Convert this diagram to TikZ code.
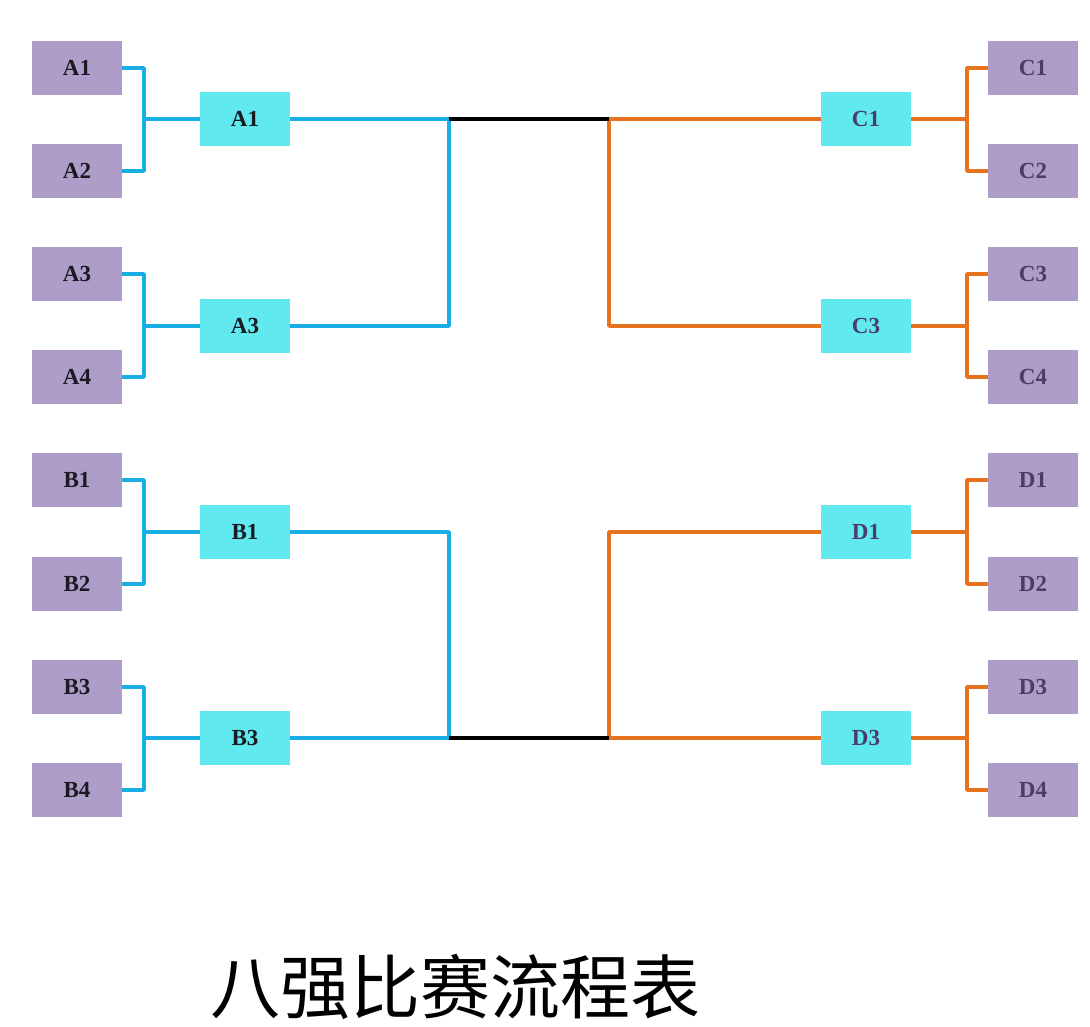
\documentclass[tikz,border=0pt]{standalone}
\usepackage{fontspec}
\setmainfont{Liberation Serif}
\newfontfamily\cjk{Noto Sans CJK SC}
\definecolor{boxpurple}{HTML}{AE9DC8}
\definecolor{boxcyan}{HTML}{60EAEF}
\definecolor{lineblue}{HTML}{1AAEE6}
\definecolor{lineorange}{HTML}{E8731E}
\definecolor{txtleft}{HTML}{1A1A22}
\definecolor{txtright}{HTML}{4A3D6A}
\tikzset{
  seedbox/.style={fill=boxpurple, minimum width=90pt, minimum height=54pt, inner sep=0pt, font=\fontsize{23}{23}\selectfont\bfseries},
  winbox/.style={fill=boxcyan, minimum width=90pt, minimum height=54pt, inner sep=0pt, font=\fontsize{23}{23}\selectfont\bfseries},
  lefttxt/.style={text=txtleft},
  righttxt/.style={text=txtright},
  bluewire/.style={draw=lineblue, line width=3.5pt, line join=round},
  orangewire/.style={draw=lineorange, line width=3.5pt, line join=round},
  blackwire/.style={draw=black, line width=3.5pt},
}
\begin{document}
\begin{tikzpicture}[x=1pt,y=-1pt]
\useasboundingbox (0,0) rectangle (1090,1027);
\fill[white] (0,0) rectangle (1090,1027);
% left seeds
\node[seedbox,lefttxt] (pA1) at (77,68) {A1};
\node[seedbox,lefttxt] (pA2) at (77,171) {A2};
\node[seedbox,lefttxt] (pA3) at (77,274) {A3};
\node[seedbox,lefttxt] (pA4) at (77,377) {A4};
\node[seedbox,lefttxt] (pB1) at (77,480) {B1};
\node[seedbox,lefttxt] (pB2) at (77,584) {B2};
\node[seedbox,lefttxt] (pB3) at (77,687) {B3};
\node[seedbox,lefttxt] (pB4) at (77,790) {B4};
% right seeds
\node[seedbox,righttxt] (pC1) at (1033,68) {C1};
\node[seedbox,righttxt] (pC2) at (1033,171) {C2};
\node[seedbox,righttxt] (pC3) at (1033,274) {C3};
\node[seedbox,righttxt] (pC4) at (1033,377) {C4};
\node[seedbox,righttxt] (pD1) at (1033,480) {D1};
\node[seedbox,righttxt] (pD2) at (1033,584) {D2};
\node[seedbox,righttxt] (pD3) at (1033,687) {D3};
\node[seedbox,righttxt] (pD4) at (1033,790) {D4};
% winners
\node[winbox,lefttxt] (cA1) at (245,119) {A1};
\node[winbox,lefttxt] (cA3) at (245,326) {A3};
\node[winbox,lefttxt] (cB1) at (245,532) {B1};
\node[winbox,lefttxt] (cB3) at (245,738) {B3};
\node[winbox,righttxt] (cC1) at (866,119) {C1};
\node[winbox,righttxt] (cC3) at (866,326) {C3};
\node[winbox,righttxt] (cD1) at (866,532) {D1};
\node[winbox,righttxt] (cD3) at (866,738) {D3};
% junctions
\coordinate (jA1) at (144,119);
\coordinate (jA3) at (144,326);
\coordinate (jB1) at (144,532);
\coordinate (jB3) at (144,738);
\coordinate (jC1) at (967,119);
\coordinate (jC3) at (967,326);
\coordinate (jD1) at (967,532);
\coordinate (jD3) at (967,738);
\coordinate (tl) at (449,119);
\coordinate (tr) at (609,119);
\coordinate (bl) at (449,738);
\coordinate (br) at (609,738);
% left brackets
\draw[bluewire] (pA1.east) -| (jA1);
\draw[bluewire] (pA2.east) -| (jA1);
\draw[bluewire] (jA1) -- (cA1.west);
\draw[bluewire] (pA3.east) -| (jA3);
\draw[bluewire] (pA4.east) -| (jA3);
\draw[bluewire] (jA3) -- (cA3.west);
\draw[bluewire] (pB1.east) -| (jB1);
\draw[bluewire] (pB2.east) -| (jB1);
\draw[bluewire] (jB1) -- (cB1.west);
\draw[bluewire] (pB3.east) -| (jB3);
\draw[bluewire] (pB4.east) -| (jB3);
\draw[bluewire] (jB3) -- (cB3.west);
% right brackets
\draw[orangewire] (pC1.west) -| (jC1);
\draw[orangewire] (pC2.west) -| (jC1);
\draw[orangewire] (jC1) -- (cC1.east);
\draw[orangewire] (pC3.west) -| (jC3);
\draw[orangewire] (pC4.west) -| (jC3);
\draw[orangewire] (jC3) -- (cC3.east);
\draw[orangewire] (pD1.west) -| (jD1);
\draw[orangewire] (pD2.west) -| (jD1);
\draw[orangewire] (jD1) -- (cD1.east);
\draw[orangewire] (pD3.west) -| (jD3);
\draw[orangewire] (pD4.west) -| (jD3);
\draw[orangewire] (jD3) -- (cD3.east);
% semifinal links
\draw[bluewire] (cA1.east) -- (tl);
\draw[bluewire] (cA3.east) -| (tl);
\draw[bluewire] (cB1.east) -| (bl);
\draw[bluewire] (cB3.east) -- (bl);
\draw[orangewire] (cC1.west) -- (tr);
\draw[orangewire] (cC3.west) -| (tr);
\draw[orangewire] (cD1.west) -| (br);
\draw[orangewire] (cD3.west) -- (br);
\draw[blackwire] (tl) -- (tr);
\draw[blackwire] (bl) -- (br);
% title
\node[font=\cjk\fontsize{70}{70}\selectfont, text=black, inner sep=0pt] (title) at (455,987) {八强比赛流程表};
\end{tikzpicture}
\end{document}
